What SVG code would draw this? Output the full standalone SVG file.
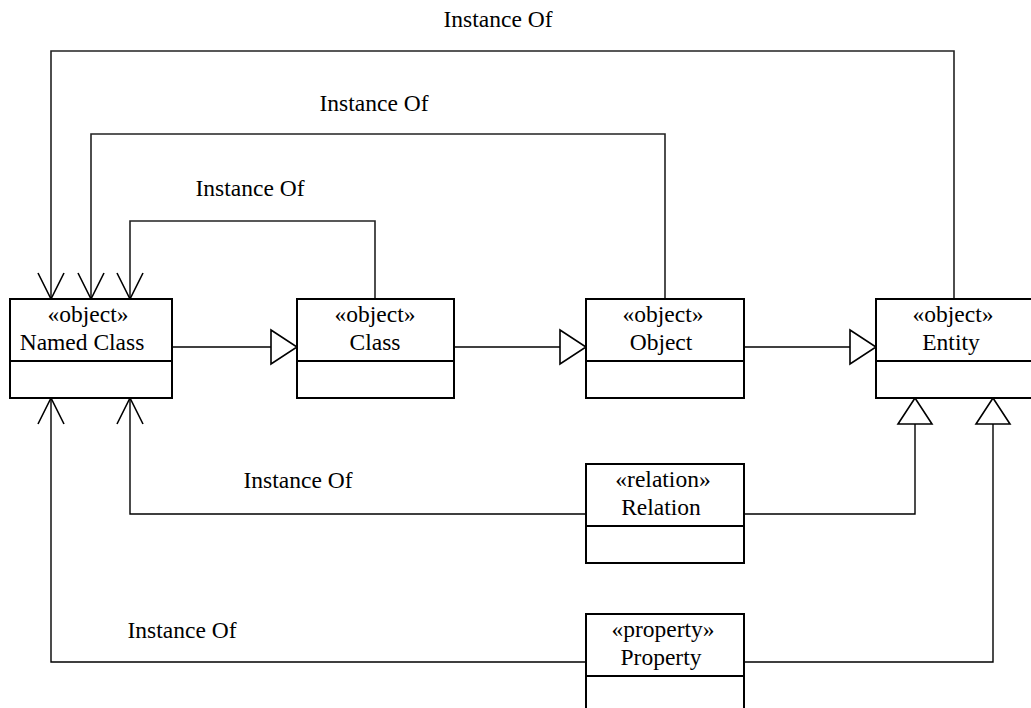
<svg xmlns="http://www.w3.org/2000/svg" width="1031" height="708" viewBox="0 0 1031 708" font-family="'Liberation Serif', 'Times New Roman', Times, serif">
  <style>
    .box { fill: #fff; stroke: #000; stroke-width: 2; }
    .div { stroke: #000; stroke-width: 2; }
    .wire { fill: none; stroke: #000; stroke-width: 1.4; }
    .loop { fill: none; stroke: #222; stroke-width: 1.6; }
    .open { fill: none; stroke: #000; stroke-width: 1.6; }
    .tri { fill: #fff; stroke: #000; stroke-width: 1.6; }
    text { font-family: 'Liberation Serif', 'Times New Roman', Times, serif; font-size: 23.5px; fill: #000; text-anchor: middle; }
  </style>
  <rect width="1031" height="708" fill="#fff"/>

  <g id="connectors">
    <!-- instance-of loops into Named Class (top) -->
    <polyline class="loop" points="954,299 954,51 51,51 51,299"/>
    <polyline class="loop" points="665,299 665,134 91,134 91,299"/>
    <polyline class="loop" points="375,299 375,221 130,221 130,299"/>
    <path class="open" d="M38,273 L51,299 L64,273 M78,273 L91,299 L104,273 M117,273 L130,299 L143,273"/>

    <!-- instance-of from Relation and Property (bottom) -->
    <polyline class="wire" points="586,514 130,514 130,398"/>
    <polyline class="wire" points="586,662 51,662 51,398"/>
    <path class="open" d="M38,424 L51,398 L64,424 M117,424 L130,398 L143,424"/>

    <!-- generalization chain -->
    <line class="wire" x1="172" y1="347" x2="271" y2="347"/>
    <polygon class="tri" points="271,330 297,347 271,364"/>
    <line class="wire" x1="454" y1="347" x2="560" y2="347"/>
    <polygon class="tri" points="560,330 586,347 560,364"/>
    <line class="wire" x1="744" y1="347" x2="850" y2="347"/>
    <polygon class="tri" points="850,330 876,347 850,364"/>

    <!-- Relation and Property specialize Entity -->
    <polyline class="wire" points="744,514 915,514 915,424"/>
    <polygon class="tri" points="898,424 915,398 932,424"/>
    <polyline class="wire" points="744,662 993,662 993,424"/>
    <polygon class="tri" points="976,424 993,398 1010,424"/>

    <!-- connector labels -->
    <text x="498" y="27">Instance Of</text>
    <text x="374" y="111">Instance Of</text>
    <text x="250" y="196">Instance Of</text>
    <text x="298" y="488">Instance Of</text>
    <text x="182" y="638">Instance Of</text>
  </g>

  <g id="named-class">
    <rect class="box" x="10" y="299" width="162" height="99"/>
    <line class="div" x1="10" y1="361" x2="172" y2="361"/>
    <text x="88" y="322">«object»</text>
    <text x="82" y="350">Named Class</text>
  </g>

  <g id="class">
    <rect class="box" x="297" y="299" width="157" height="99"/>
    <line class="div" x1="297" y1="361" x2="454" y2="361"/>
    <text x="375" y="322">«object»</text>
    <text x="375" y="350">Class</text>
  </g>

  <g id="object">
    <rect class="box" x="586" y="299" width="158" height="99"/>
    <line class="div" x1="586" y1="361" x2="744" y2="361"/>
    <text x="663" y="322">«object»</text>
    <text x="661" y="350">Object</text>
  </g>

  <!-- Entity runs past the right edge of the sheet -->
  <g id="entity">
    <path class="box" d="M1040,299 H876 V398 H1040"/>
    <line class="div" x1="876" y1="361" x2="1040" y2="361"/>
    <text x="953" y="322">«object»</text>
    <text x="951" y="350">Entity</text>
  </g>

  <g id="relation">
    <rect class="box" x="586" y="464" width="158" height="99"/>
    <line class="div" x1="586" y1="526" x2="744" y2="526"/>
    <text x="663" y="487">«relation»</text>
    <text x="661" y="515">Relation</text>
  </g>

  <g id="property">
    <rect class="box" x="586" y="614" width="158" height="99"/>
    <line class="div" x1="586" y1="676" x2="744" y2="676"/>
    <text x="663" y="637">«property»</text>
    <text x="661" y="665">Property</text>
  </g>
</svg>
